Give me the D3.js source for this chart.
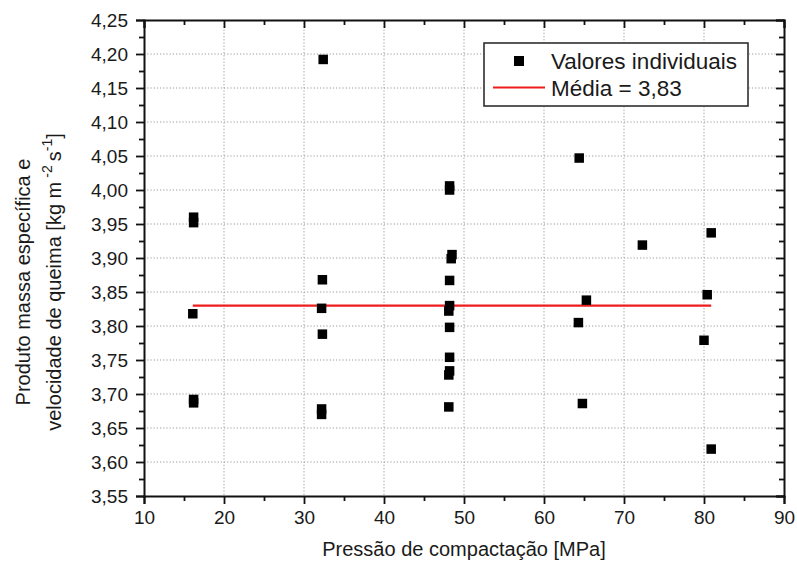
<!DOCTYPE html>
<html>
<head>
<meta charset="utf-8">
<script src="https://cdn.jsdelivr.net/npm/d3@7/dist/d3.min.js"></script>
<style>
  html, body { margin: 0; padding: 0; background: #fff; }
  svg { display: block; font-family: "Liberation Sans", Arial, sans-serif; }
</style>
</head>
<body>
<svg id="chart" width="797" height="568"></svg>
<script>
// Compaction pressure (MPa) of each specimen
const pressure = [
  16.2, 16.2, 16.1, 16.2, 16.2,
  32.4, 32.3, 32.2, 32.3, 32.2, 32.2,
  48.2, 48.2, 48.5, 48.4, 48.2, 48.2, 48.1, 48.2, 48.2, 48.2, 48.1, 48.1,
  64.4, 65.3, 64.3, 64.8,
  72.3,
  80.9, 80.4, 80.0, 80.9
];
// Product of density and burning rate (kg m^-2 s^-1) of each specimen
const product = [
  3.960, 3.952, 3.818, 3.692, 3.687,
  4.192, 3.868, 3.826, 3.788, 3.678, 3.670,
  4.006, 4.000, 3.905, 3.899, 3.867, 3.830, 3.822, 3.798, 3.754, 3.734, 3.728, 3.681,
  4.047, 3.838, 3.805, 3.686,
  3.919,
  3.937, 3.846, 3.779, 3.619
];
const meanValue = 3.83;
const xTicks = [10, 20, 30, 40, 50, 60, 70, 80, 90];
const yTicks = [3.55, 3.60, 3.65, 3.70, 3.75, 3.80, 3.85, 3.90, 3.95, 4.00, 4.05, 4.10, 4.15, 4.20, 4.25];
const xMinor = [15, 25, 35, 45, 55, 65, 75, 85];
const yMinor = [3.575, 3.625, 3.675, 3.725, 3.775, 3.825, 3.875, 3.925, 3.975, 4.025, 4.075, 4.125, 4.175, 4.225];
const legendLabels = ["Valores individuais", "Média = 3,83"];

const svg = d3.select("#chart");
const plotL = 144, plotR = 784, plotT = 20, plotB = 496;

const x = d3.scaleLinear().domain([10, 90]).range([plotL, plotR]);
const y = d3.scaleLinear().domain([3.55, 4.25]).range([plotB, plotT]);
const fmtY = v => d3.format(".2f")(v).replace(".", ",");
const ink = "#111";

// dotted grid at the major ticks
const grid = svg.append("g").attr("stroke", "#9a9a9a").attr("stroke-width", 1)
  .attr("stroke-dasharray", "1.2,2");
grid.selectAll("line.gx").data(xTicks.slice(1, -1)).join("line").attr("class", "gx")
  .attr("x1", d => x(d)).attr("x2", d => x(d)).attr("y1", plotT).attr("y2", plotB);
grid.selectAll("line.gy").data(yTicks.slice(1, -1)).join("line").attr("class", "gy")
  .attr("y1", d => y(d)).attr("y2", d => y(d)).attr("x1", plotL).attr("x2", plotR);

// mean line
svg.append("line")
  .attr("x1", x(d3.min(pressure))).attr("x2", x(d3.max(pressure)))
  .attr("y1", y(meanValue)).attr("y2", y(meanValue))
  .attr("stroke", "#ee1c1c").attr("stroke-width", 2.2);

// individual values
const ms = 9.5;
svg.append("g").selectAll("rect").data(pressure.map((p, i) => [p, product[i]])).join("rect")
  .attr("x", d => x(d[0]) - ms / 2).attr("y", d => y(d[1]) - ms / 2)
  .attr("width", ms).attr("height", ms).attr("fill", "#000");

// axes: outward ticks on left/bottom, inward mirrored ticks on top/right
function styleAxis(g) {
  g.selectAll("path.domain").attr("stroke", ink).attr("stroke-width", 2);
  g.selectAll(".tick line").attr("stroke", ink).attr("stroke-width", 1.8);
  g.selectAll(".tick text").attr("fill", "#1a1a1a").style("font-size", "19px")
    .style("font-family", '"Liberation Sans", Arial, sans-serif');
}
const bottomAxis = svg.append("g").attr("transform", `translate(0,${plotB})`)
  .call(d3.axisBottom(x).tickValues(xTicks).tickSize(8).tickPadding(7).tickFormat(d3.format("d")));
styleAxis(bottomAxis);
svg.append("g").attr("transform", `translate(0,${plotB})`)
  .call(d3.axisBottom(x).tickValues(xMinor).tickSize(5).tickFormat(""))
  .call(g => { g.select("path.domain").remove(); styleAxis(g); });

const topAxis = svg.append("g").attr("transform", `translate(0,${plotT})`)
  .call(d3.axisTop(x).tickValues(xTicks).tickSize(-8).tickFormat(""));
styleAxis(topAxis);
svg.append("g").attr("transform", `translate(0,${plotT})`)
  .call(d3.axisTop(x).tickValues(xMinor).tickSize(-5).tickFormat(""))
  .call(g => { g.select("path.domain").remove(); styleAxis(g); });

const leftAxis = svg.append("g").attr("transform", `translate(${plotL},0)`)
  .call(d3.axisLeft(y).tickValues(yTicks).tickSize(8).tickPadding(8).tickFormat(fmtY));
styleAxis(leftAxis);
svg.append("g").attr("transform", `translate(${plotL},0)`)
  .call(d3.axisLeft(y).tickValues(yMinor).tickSize(5).tickFormat(""))
  .call(g => { g.select("path.domain").remove(); styleAxis(g); });

const rightAxis = svg.append("g").attr("transform", `translate(${plotR},0)`)
  .call(d3.axisRight(y).tickValues(yTicks).tickSize(-8).tickFormat(""));
styleAxis(rightAxis);
svg.append("g").attr("transform", `translate(${plotR},0)`)
  .call(d3.axisRight(y).tickValues(yMinor).tickSize(-5).tickFormat(""))
  .call(g => { g.select("path.domain").remove(); styleAxis(g); });

// axis titles
svg.append("text").attr("x", (plotL + plotR) / 2).attr("y", 556)
  .attr("text-anchor", "middle").attr("fill", "#1a1a1a").style("font-size", "20px")
  .text("Pressão de compactação [MPa]");

const yTitle = svg.append("text").attr("transform", "translate(0,282) rotate(-90)")
  .attr("text-anchor", "middle").attr("fill", "#1a1a1a").style("font-size", "20px");
yTitle.append("tspan").attr("x", 0).attr("y", 30).text("Produto massa específica e");
const l2 = yTitle.append("tspan").attr("x", 0).attr("y", 61);
l2.append("tspan").text("velocidade de queima [kg m\u2009");
l2.append("tspan").attr("dy", -9).style("font-size", "14px").text("-2");
l2.append("tspan").attr("dy", 9).text("\u2009s");
l2.append("tspan").attr("dy", -9).style("font-size", "14px").text("-1");
l2.append("tspan").attr("dy", 9).text("]");

// legend
const lg = svg.append("g");
lg.append("rect").attr("x", 484).attr("y", 43).attr("width", 264).attr("height", 63)
  .attr("fill", "#fff").attr("stroke", "#222").attr("stroke-width", 1.5);
lg.append("rect").attr("x", 519 - 5).attr("y", 61 - 5).attr("width", 10).attr("height", 10).attr("fill", "#000");
lg.append("line").attr("x1", 493).attr("x2", 545).attr("y1", 87.5).attr("y2", 87.5)
  .attr("stroke", "#ee1c1c").attr("stroke-width", 2.2);
lg.selectAll("text").data(legendLabels).join("text")
  .attr("x", 551).attr("y", (d, i) => 69 + i * 26.5)
  .attr("fill", "#1a1a1a").style("font-size", "22.5px").text(d => d);
</script>
</body>
</html>
